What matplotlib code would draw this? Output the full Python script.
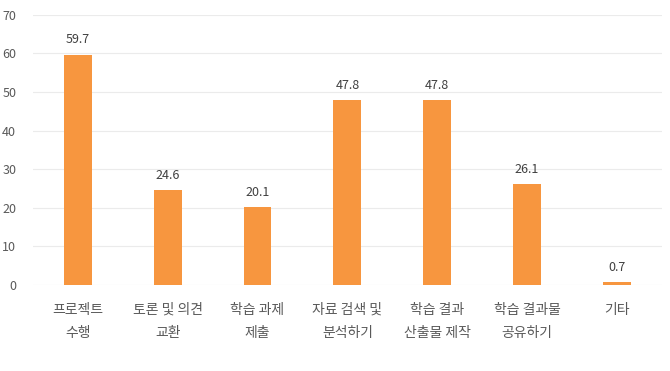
import matplotlib
matplotlib.use('Agg')
import matplotlib.pyplot as plt

plt.rcParams['font.family'] = ['Noto Sans CJK KR', 'DejaVu Sans']

categories = ['프로젝트\n수행', '토론 및 의견\n교환', '학습 과제\n제출', '자료 검색 및\n분석하기',
              '학습 결과\n산출물 제작', '학습 결과물\n공유하기', '기타']
values = [59.7, 24.6, 20.1, 47.8, 47.8, 26.1, 0.7]
yticks = [0, 10, 20, 30, 40, 50, 60, 70]

fig = plt.figure(figsize=(6.7, 3.71), dpi=100)
ax = fig.add_axes([0.049, 0.232, 0.939, 0.728])

x = range(len(categories))
bars = ax.bar(x, values, width=0.31, color='#F7963F', zorder=3)

for b, v in zip(bars, values):
    ax.text(b.get_x() + b.get_width() / 2, v + 2.2, f'{v}', ha='center', va='bottom',
            fontsize=9, color='#404040')

ax.set_xlim(-0.5, 6.5)
ax.set_ylim(0, 70)
ax.set_yticks(yticks)
ax.set_xticks(list(x))
ax.set_xticklabels(categories, fontsize=10, color='#595959', linespacing=1.8)
ax.tick_params(axis='y', labelsize=9, colors='#595959', length=0, pad=12)
ax.tick_params(axis='x', length=0, pad=13)
ax.grid(axis='y', color='#EBEBEB', linewidth=0.8, zorder=0)
for s in ax.spines.values():
    s.set_visible(False)

fig.savefig('out.png', dpi=100)
